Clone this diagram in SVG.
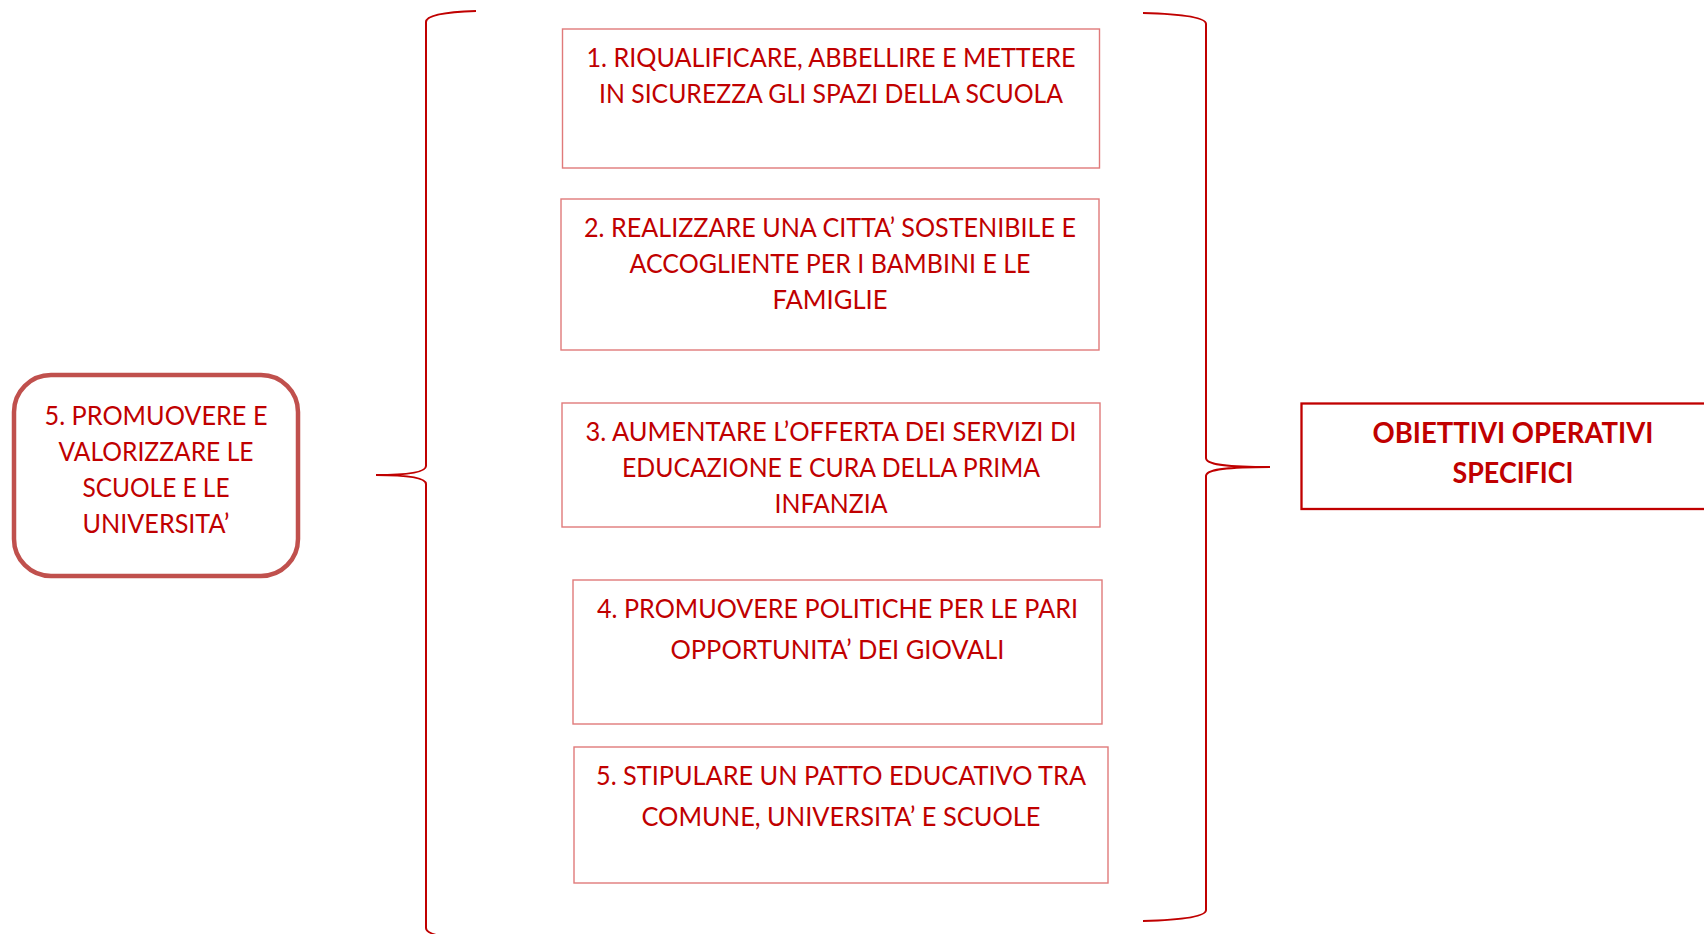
<svg xmlns="http://www.w3.org/2000/svg" width="1704" height="934" viewBox="0 0 1704 934">
<style>
  .t { font-family: Lato, "Open Sans", "Liberation Sans", sans-serif; font-size: 26.5px; fill: #C00000; text-anchor: middle; }
  .tb { font-family: Lato, "Open Sans", "Liberation Sans", sans-serif; font-size: 29px; font-weight: bold; fill: #C00000; text-anchor: middle; }
  .box { fill: #FFFFFF; stroke: #E07A7A; stroke-width: 1.4; }
  .main { fill: #FFFFFF; stroke: #C0504D; stroke-width: 4.5; }
  .obj { fill: #FFFFFF; stroke: #C00000; stroke-width: 2.3; }
  .brace { fill: none; stroke: #C00000; stroke-width: 2; }
</style>
<rect width="1704" height="934" fill="#FFFFFF"/>
<g id="connectors">
  <path class="brace" d="M 476 11 C 445 12, 426 15, 426 22 L 426 466 C 426 472, 410 475, 376 475 C 410 475, 426 478, 426 484 L 426 928 C 426 935, 445 938, 476 939"/>
  <path class="brace" d="M 1143 13 C 1180 14, 1206 17, 1206 24 L 1206 458 C 1206 464, 1222 467, 1270 467 C 1222 467, 1206 470, 1206 476 L 1206 910 C 1206 917, 1180 920, 1143 921"/>
</g>
<g id="node-main">
  <rect class="main" x="14" y="375" width="284" height="201" rx="37" ry="37"/>
  <text class="t" x="156" y="425" textLength="223" lengthAdjust="spacingAndGlyphs">5. PROMUOVERE E</text>
  <text class="t" x="156" y="461" textLength="195" lengthAdjust="spacingAndGlyphs">VALORIZZARE LE</text>
  <text class="t" x="156" y="497" textLength="147" lengthAdjust="spacingAndGlyphs">SCUOLE E LE</text>
  <text class="t" x="156" y="533" textLength="147" lengthAdjust="spacingAndGlyphs">UNIVERSITA’</text>
</g>
<g id="node-1">
  <rect class="box" x="562.5" y="29" width="537" height="139"/>
  <text class="t" x="831" y="67" textLength="489" lengthAdjust="spacingAndGlyphs">1. RIQUALIFICARE, ABBELLIRE E METTERE</text>
  <text class="t" x="831" y="103" textLength="464" lengthAdjust="spacingAndGlyphs">IN SICUREZZA GLI SPAZI DELLA SCUOLA</text>
</g>
<g id="node-2">
  <rect class="box" x="561" y="199" width="538" height="151"/>
  <text class="t" x="830" y="236.5" textLength="492" lengthAdjust="spacingAndGlyphs">2. REALIZZARE UNA CITTA’ SOSTENIBILE E</text>
  <text class="t" x="830" y="272.5" textLength="401" lengthAdjust="spacingAndGlyphs">ACCOGLIENTE PER I BAMBINI E LE</text>
  <text class="t" x="830" y="308.5" textLength="115" lengthAdjust="spacingAndGlyphs">FAMIGLIE</text>
</g>
<g id="node-3">
  <rect class="box" x="562" y="403" width="538" height="124"/>
  <text class="t" x="831" y="441" textLength="491" lengthAdjust="spacingAndGlyphs">3. AUMENTARE L’OFFERTA DEI SERVIZI DI</text>
  <text class="t" x="831" y="477" textLength="418" lengthAdjust="spacingAndGlyphs">EDUCAZIONE E CURA DELLA PRIMA</text>
  <text class="t" x="831" y="513" textLength="113" lengthAdjust="spacingAndGlyphs">INFANZIA</text>
</g>
<g id="node-4">
  <rect class="box" x="573" y="580" width="529" height="144"/>
  <text class="t" x="837.5" y="618" textLength="481" lengthAdjust="spacingAndGlyphs">4. PROMUOVERE POLITICHE PER LE PARI</text>
  <text class="t" x="837.5" y="659" textLength="334" lengthAdjust="spacingAndGlyphs">OPPORTUNITA’ DEI GIOVALI</text>
</g>
<g id="node-5">
  <rect class="box" x="574" y="747" width="534" height="136"/>
  <text class="t" x="841" y="785" textLength="490" lengthAdjust="spacingAndGlyphs">5. STIPULARE UN PATTO EDUCATIVO TRA</text>
  <text class="t" x="841" y="825.5" textLength="399" lengthAdjust="spacingAndGlyphs">COMUNE, UNIVERSITA’ E SCUOLE</text>
</g>
<g id="node-obiettivi">
  <rect class="obj" x="1301.5" y="403.5" width="420" height="105.5"/>
  <text class="tb" x="1513" y="443.3" textLength="281" lengthAdjust="spacingAndGlyphs">OBIETTIVI OPERATIVI</text>
  <text class="tb" x="1513" y="482.5" textLength="121" lengthAdjust="spacingAndGlyphs">SPECIFICI</text>
</g>
</svg>
